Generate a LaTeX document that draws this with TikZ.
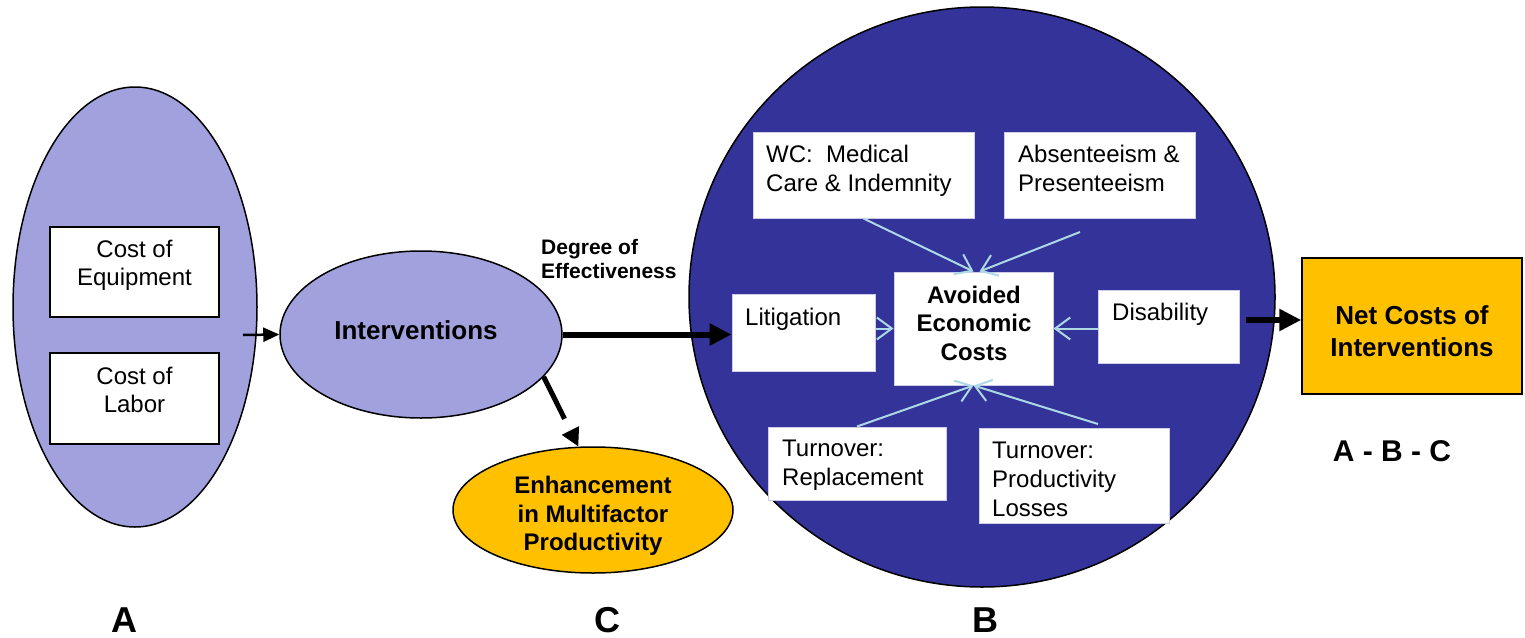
\documentclass[tikz,border=0pt]{standalone}
\usepackage{fontspec}
\setmainfont{Liberation Sans}
\usetikzlibrary{shapes.geometric,arrows.meta}
\definecolor{lpurple}{RGB}{161,161,222}
\definecolor{dblue}{RGB}{51,51,153}
\definecolor{gold}{RGB}{255,192,0}
\definecolor{arrowblue}{RGB}{173,216,230}
\definecolor{boxedge}{RGB}{205,205,235}
\tikzset{
  ell/.style={ellipse, draw=black, line width=1.5pt, inner sep=0pt},
  costbox/.style={draw=black, line width=1.5pt, fill=white, inner sep=0pt},
  inbox/.style={draw=boxedge, line width=1pt, fill=white, inner sep=0pt},
  ctxt/.style={font=\fontsize{24}{28}\selectfont, inner sep=0pt, align=center, anchor=north},
  ltxt/.style={font=\fontsize{24}{29}\selectfont, inner sep=0pt, align=left, anchor=north west},
  btxt/.style={font=\bfseries\fontsize{24}{28.5}\selectfont, inner sep=0pt, align=center},
  bigtxt/.style={font=\bfseries\fontsize{26}{32}\selectfont, inner sep=0pt, align=center},
  letter/.style={font=\bfseries\fontsize{36}{40}\selectfont, inner sep=0pt},
  blk/.style={draw=black, line width=6pt, -{Triangle[length=22pt,width=21pt]}},
  lb/.style={draw=arrowblue, line width=2pt, -{Straight Barb[length=15pt,width=22pt]}},
}
\begin{document}
\begin{tikzpicture}[x=1pt,y=-1pt]
\useasboundingbox (0,0) rectangle (1525,637);
\fill[white] (0,0) rectangle (1525,637);

% Group A
\node[ell, fill=lpurple, minimum width=244pt, minimum height=440pt] (A) at (135,307) {};
\node[costbox, minimum width=169pt, minimum height=90pt] (eq) at (134.5,272) {};
\node[costbox, minimum width=169pt, minimum height=91pt] (lab) at (134.5,398.5) {};
\node[ctxt] (eqt) at (134.5,240) {Cost of\\Equipment};
\node[ctxt] (labt) at (134.5,367) {Cost of\\Labor};

% Interventions
\node[ell, fill=lpurple, minimum width=282pt, minimum height=167pt] (int) at (421,334.5) {};
\node[bigtxt] (intt) at (416,330) {Interventions};
\node[font=\bfseries\fontsize{21}{24.5}\selectfont, inner sep=0pt, align=left, anchor=north west] (deg) at (541,239) {Degree of\\Effectiveness};

% Enhancement (C)
\node[ell, fill=gold, minimum width=280pt, minimum height=126pt] (enh) at (593,510) {};
\node[btxt] (enht) at (593,516) {Enhancement\\in Multifactor\\Productivity};

% Circle B
\node[ell, fill=dblue, minimum width=586pt, minimum height=580pt] (B) at (982,297) {};
\node[inbox, minimum width=221pt, minimum height=86pt] (wc) at (863.5,175) {};
\node[inbox, minimum width=191pt, minimum height=86pt] (abs) at (1099.5,175) {};
\node[inbox, minimum width=159pt, minimum height=113pt] (avoid) at (973.5,328.5) {};
\node[inbox, minimum width=143pt, minimum height=77pt] (lit) at (803.5,332.5) {};
\node[inbox, minimum width=141pt, minimum height=73pt] (dis) at (1168.5,326.5) {};
\node[inbox, minimum width=178pt, minimum height=73pt] (tr) at (857,463.5) {};
\node[inbox, minimum width=190pt, minimum height=95pt] (tp) at (1074,475.5) {};

\node[ltxt] (wct) at (766,145) {WC:\ \ Medical\\Care \& Indemnity};
\node[ltxt] (abst) at (1018,145) {Absenteeism \&\\Presenteeism};
\node[ltxt] (litt) at (745,308) {Litigation};
\node[ltxt] (dist) at (1112,303) {Disability};
\node[ltxt] (trt) at (782,440) {Turnover:\\Replacement};
\node[ltxt] (tpt) at (992,442) {Turnover:\\Productivity\\Losses};
\node[btxt] (avoidt) at (974,323) {Avoided\\Economic\\Costs};

% Net costs
\node[draw=black, line width=1.5pt, fill=gold, inner sep=0pt, minimum width=220pt, minimum height=136pt] (net) at (1412,326) {};
\node[bigtxt] (nett) at (1412,331) {Net Costs of\\Interventions};
\node[font=\bfseries\fontsize{30}{34}\selectfont, inner sep=0pt] (abc) at (1392,451) {A - B - C};

% Letters
\node[letter] (la) at (124.5,620) {A};
\node[letter] (lc) at (607,620) {C};
\node[letter] (lbb) at (985,620) {B};

% Black connectors
\coordinate (aout) at (243,335);
\draw[line width=2.5pt, -{Triangle[length=16pt,width=14pt]}] (aout) -- (int.west);
\draw[blk] (int.east) -- (int.east -| lit.west);
\draw[draw=black, line width=5pt, dash pattern=on 47pt off 20pt, -{Triangle[length=18pt,width=18pt]}] (int.-19) -- (enh.103);
\coordinate (dout) at (1246,320);
\draw[blk] (dout) -- (dout -| net.west);

% Light blue connectors
\coordinate (absout) at (1080,232);
\coordinate (tpout) at (1098,424);
\draw[lb] (wc.south) -- (avoid.north);
\draw[lb] (absout) -- ([xshift=6pt]avoid.north);
\draw[lb] (avoid.west -| lit.east) -- (avoid.west);
\draw[lb] (avoid.east -| dis.west) -- (avoid.east);
\draw[lb] (tr.north) -- (avoid.south);
\draw[lb] (tpout) -- (avoid.south);
\end{tikzpicture}
\end{document}
